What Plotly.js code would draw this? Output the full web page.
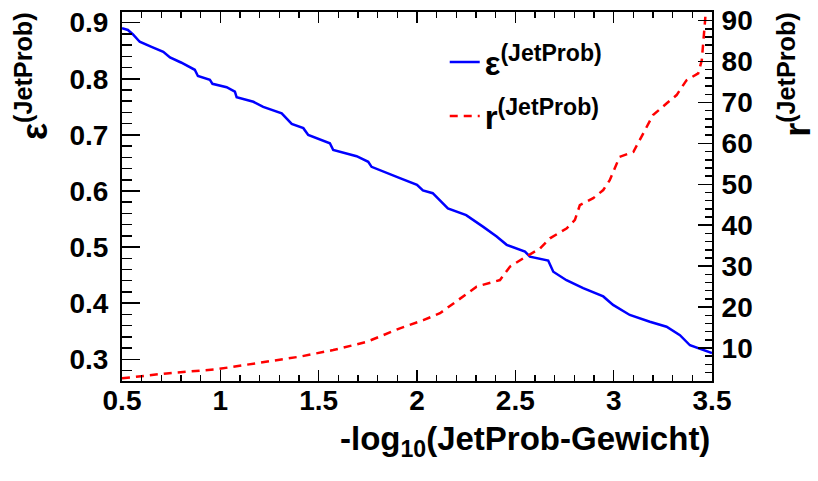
<!DOCTYPE html>
<html>
<head>
<meta charset="utf-8">
<script src="https://cdn.plot.ly/plotly-3.0.1.min.js"></script>
<style>html,body{margin:0;padding:0;background:#fff;}#chart{width:818px;height:481px;}</style>
</head>
<body>
<div id="chart"></div>
<script>
// Efficiency epsilon^(JetProb) vs -log10(JetProb weight)
const xEff = [0.5,0.53,0.556,0.59,0.65,0.71,0.744,0.80,0.87,0.886,0.947,0.96,1.032,1.074,1.083,1.168,1.218,1.312,1.363,1.422,1.447,1.557,1.574,1.693,1.752,1.769,1.913,2.0,2.03,2.08,2.157,2.25,2.337,2.405,2.456,2.549,2.574,2.667,2.693,2.76,2.845,2.947,2.997,3.082,3.184,3.269,3.337,3.388,3.5];
const eff = [0.890,0.887,0.879,0.866,0.857,0.848,0.838,0.829,0.816,0.805,0.798,0.791,0.785,0.777,0.767,0.759,0.750,0.7385,0.7195,0.712,0.700,0.685,0.673,0.662,0.652,0.643,0.623,0.611,0.601,0.596,0.569,0.557,0.536,0.519,0.504,0.492,0.483,0.476,0.456,0.441,0.427,0.412,0.397,0.379,0.367,0.358,0.343,0.325,0.311];
// Rejection r^(JetProb) vs -log10(JetProb weight)
const xRej = [0.5,0.727,0.98,1.236,1.405,1.574,1.744,1.913,2.032,2.117,2.218,2.303,2.422,2.473,2.54,2.625,2.676,2.76,2.803,2.828,2.896,2.947,2.98,3.03,3.1,3.133,3.167,3.2,3.27,3.32,3.37,3.43,3.448,3.456,3.465,3.47];
const rej = [2.6,3.8,4.8,6.65,7.9,9.5,11.5,14.8,16.8,18.5,22.1,25.0,26.6,29.9,31.9,34.3,36.8,39.2,41.3,44.9,46.6,48.6,51.0,56.7,57.9,60.8,64.0,66.9,69.8,71.8,75.4,77.1,80.3,84.4,90.1,94];

const effName = 'ε<sup>(JetProb)</sup>';
const rejName = 'r<sup>(JetProb)</sup>';
const xTitle = '-log<sub>10</sub>(JetProb-Gewicht)';

const FONT = 'Liberation Sans, Arial, Helvetica, sans-serif';
const tickFont = {family: FONT, size: 28, weight: 'bold', color: '#000'};

const traces = [
  {x: xEff, y: eff, type: 'scatter', mode: 'lines', name: effName, legendgroup: 'a',
   line: {color: '#0000ff', width: 2.5, shape: 'linear'}, yaxis: 'y'},
  {x: xRej, y: rej, type: 'scatter', mode: 'lines', name: rejName, legendgroup: 'b',
   line: {color: '#ff0000', width: 2.5, dash: '8px,6px'}, yaxis: 'y2'}
];

const layout = {
  width: 818, height: 481, autosize: false,
  margin: {l: 122, r: 106, t: 12, b: 100, pad: 0},
  paper_bgcolor: '#fff', plot_bgcolor: '#fff',
  font: {family: FONT, color: '#000'},
  showlegend: true,
  legend: {x: 0.547, y: 0.94, xanchor: 'left', yanchor: 'top',
           bgcolor: 'rgba(0,0,0,0)', borderwidth: 0,
           font: {family: FONT, size: 33, weight: 'bold', color: '#000'},
           tracegroupgap: 8},
  xaxis: {range: [0.5, 3.5], tick0: 0.5, dtick: 0.5, ticks: 'inside', ticklen: 11, tickwidth: 1.5,
          tickcolor: '#000', showline: true, linewidth: 2, linecolor: '#000', mirror: 'ticks',
          showgrid: false, zeroline: false, tickfont: tickFont, ticklabelstandoff: -7,
          minor: {dtick: 0.1, ticks: 'inside', ticklen: 6, tickwidth: 1.5, tickcolor: '#000', showgrid: false}},
  yaxis: {range: [0.2613, 0.919], tick0: 0.3, dtick: 0.1, ticks: 'inside', ticklen: 18, tickwidth: 1.5,
          tickcolor: '#000', showline: true, linewidth: 2, linecolor: '#000',
          showgrid: false, zeroline: false, tickfont: tickFont, ticklabelstandoff: 6,
          minor: {dtick: 0.02, ticks: 'inside', ticklen: 10, tickwidth: 1.5, tickcolor: '#000', showgrid: false}},
  yaxis2: {range: [1.94, 92.1], tick0: 10, dtick: 10, overlaying: 'y', side: 'right',
           ticks: 'inside', ticklen: 14, tickwidth: 1.5, tickcolor: '#000',
           showline: true, linewidth: 2, linecolor: '#000',
           showgrid: false, zeroline: false, tickfont: tickFont, ticklabelstandoff: 2,
           minor: {dtick: 2, ticks: 'inside', ticklen: 7, tickwidth: 1.5, tickcolor: '#000', showgrid: false}},
  annotations: [
    {text: xTitle, xref: 'paper', yref: 'paper', x: 1.0, y: -0.1, xanchor: 'right', yanchor: 'top',
     showarrow: false, font: {family: FONT, size: 33, weight: 'bold', color: '#000'}},
    {text: effName, xref: 'paper', yref: 'paper', x: -0.1525, y: 1.0054, xanchor: 'center', yanchor: 'top',
     textangle: -90, showarrow: false, font: {family: FONT, size: 36, weight: 'bold', color: '#000'}},
    {text: rejName, xref: 'paper', yref: 'paper', x: 1.1395, y: 1.0054, xanchor: 'center', yanchor: 'top',
     textangle: -90, showarrow: false, font: {family: FONT, size: 36, weight: 'bold', color: '#000'}}
  ]
};

Plotly.newPlot('chart', traces, layout, {displayModeBar: false, staticPlot: true});
</script>
</body>
</html>
